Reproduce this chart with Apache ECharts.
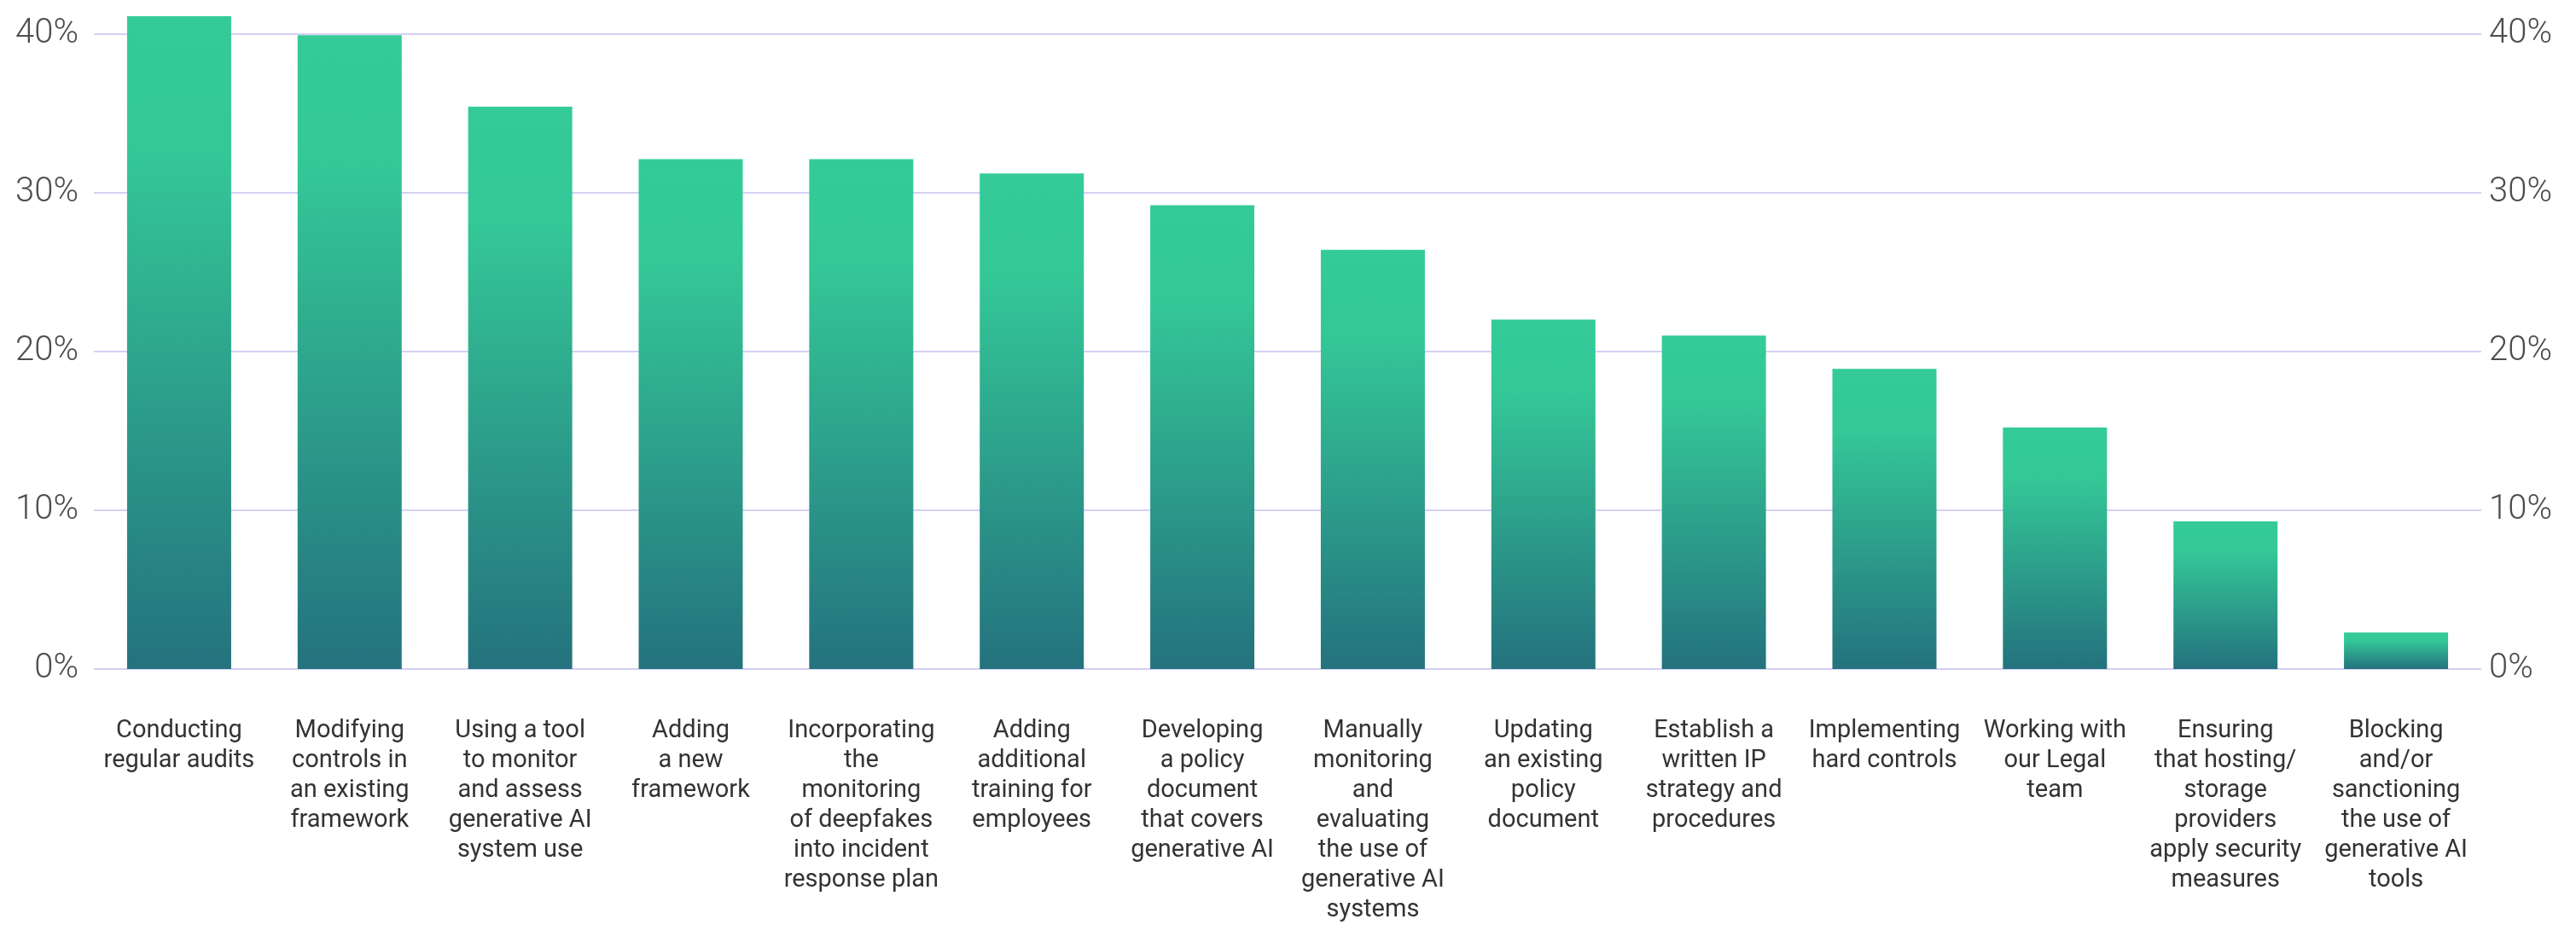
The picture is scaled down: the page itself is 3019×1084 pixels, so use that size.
<!DOCTYPE html>
<html>
<head>
<meta charset="utf-8">
<title>Generative AI governance measures</title>
<script src="https://cdn.jsdelivr.net/npm/echarts@6/dist/echarts.min.js"></script>
<style>
  html, body { margin: 0; padding: 0; background: #ffffff; }
  #chart { width: 3019px; height: 1084px; }
</style>
</head>
<body>
<div id="chart"></div>
<script>
// Measures taken, with labels pre-wrapped onto several lines
const categories = [
  'Conducting\nregular audits',
  'Modifying\ncontrols in\nan existing\nframework',
  'Using a tool\nto monitor\nand assess\ngenerative AI\nsystem use',
  'Adding\na new\nframework',
  'Incorporating\nthe\nmonitoring\nof deepfakes\ninto incident\nresponse plan',
  'Adding\nadditional\ntraining for\nemployees',
  'Developing\na policy\ndocument\nthat covers\ngenerative AI',
  'Manually\nmonitoring\nand\nevaluating\nthe use of\ngenerative AI\nsystems',
  'Updating\nan existing\npolicy\ndocument',
  'Establish a\nwritten IP\nstrategy and\nprocedures',
  'Implementing\nhard controls',
  'Working with\nour Legal\nteam',
  'Ensuring\nthat hosting/\nstorage\nproviders\napply security\nmeasures',
  'Blocking\nand/or\nsanctioning\nthe use of\ngenerative AI\ntools'
];

// Share of respondents (%)
const shares = [41.1, 39.9, 35.4, 32.1, 32.1, 31.2, 29.2, 26.4, 22.0, 21.0, 18.9, 15.2, 9.3, 2.3];

// Percentage axis
const axisMin = 0;
const axisMax = 40;
const axisStep = 10;

const chart = echarts.init(document.getElementById('chart'), null, { renderer: 'canvas' });

const barFill = new echarts.graphic.LinearGradient(0, 0, 0, 1, [
  { offset: 0, color: '#34cb99' },
  { offset: 0.2, color: '#34c897' },
  { offset: 1, color: '#24727e' }
]);

const valueLabel = {
  formatter: '{value}%',
  color: '#4d4d4d',
  fontFamily: 'Roboto',
  fontSize: 40,
  fontWeight: 300
};

chart.setOption({
  animation: false,
  backgroundColor: '#ffffff',
  grid: { left: 110, top: 39.5, width: 2798, height: 752, containLabel: false },
  xAxis: {
    type: 'category',
    data: categories,
    axisLine: { show: false },
    axisTick: { show: false },
    axisLabel: {
      interval: 0,
      margin: 55,
      color: '#333333',
      fontFamily: 'Roboto',
      fontSize: 29,
      lineHeight: 35,
      align: 'center',
      verticalAlign: 'top'
    }
  },
  yAxis: [
    {
      type: 'value',
      min: axisMin,
      max: axisMax,
      interval: axisStep,
      position: 'left',
      axisLine: { show: false },
      axisTick: { show: false },
      axisLabel: Object.assign({ margin: 18 }, valueLabel),
      splitLine: { lineStyle: { color: '#d6d0f4', width: 2 } }
    },
    {
      type: 'value',
      min: axisMin,
      max: axisMax,
      interval: axisStep,
      position: 'right',
      axisLine: { show: false },
      axisTick: { show: false },
      axisLabel: Object.assign({ margin: 9 }, valueLabel),
      splitLine: { show: false }
    }
  ],
  series: [
    {
      type: 'bar',
      data: shares,
      barWidth: 122,
      clip: false,
      z: 3,
      itemStyle: { color: barFill }
    }
  ]
});
</script>
</body>
</html>
